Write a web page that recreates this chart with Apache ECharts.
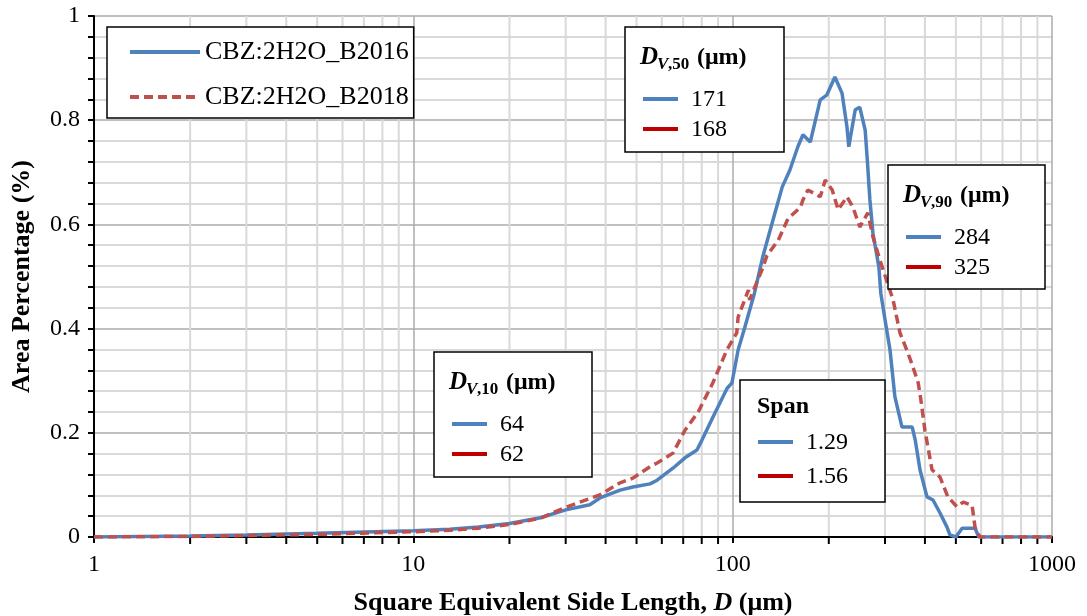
<!DOCTYPE html>
<html>
<head>
<meta charset="utf-8">
<script src="https://cdn.jsdelivr.net/npm/echarts@6/dist/echarts.min.js"></script>
<style>html,body{margin:0;padding:0;background:#fff}#c{width:1087px;height:616px}</style>
</head>
<body>
<div id="c"></div>
<script>
// ---- data ----
const seriesNames = ['CBZ:2H2O_B2016', 'CBZ:2H2O_B2018'];
const sizeB2016 = [1, 2, 3, 5, 10, 13, 16, 20, 25, 30, 35.7, 38.4, 44.4, 48.7, 55.1, 58, 65, 70.9, 77.3, 80, 86.7, 96, 99.5, 104, 109, 117, 124.5, 133, 143, 151, 160, 166, 175, 188, 197, 209, 220, 228, 231, 242, 250, 260, 264, 269, 275, 287, 291, 300, 311, 322, 339, 365, 373, 386, 406, 424, 446, 469, 479, 500, 523, 574, 590, 1000];
const areaB2016 = [0, 0.002, 0.004, 0.007, 0.012, 0.015, 0.019, 0.026, 0.037, 0.052, 0.062, 0.075, 0.090, 0.096, 0.102, 0.109, 0.132, 0.152, 0.167, 0.185, 0.230, 0.285, 0.296, 0.359, 0.401, 0.468, 0.540, 0.603, 0.672, 0.704, 0.749, 0.772, 0.758, 0.839, 0.848, 0.883, 0.852, 0.787, 0.749, 0.820, 0.825, 0.781, 0.724, 0.647, 0.583, 0.518, 0.468, 0.417, 0.359, 0.270, 0.211, 0.211, 0.186, 0.129, 0.077, 0.071, 0.046, 0.019, 0.004, 0, 0.017, 0.017, 0, 0];
const sizeB2018 = [1, 2, 3, 5, 10, 13, 16, 20, 25, 30.3, 38.4, 44.4, 48.7, 55.1, 58, 65, 70.9, 78, 86.7, 95.9, 103, 104, 112, 113, 124.5, 128, 139, 149, 163, 166, 172, 188, 195, 205, 214, 228, 238, 250, 265, 275, 289, 318, 334, 354, 367, 381, 388, 400, 421, 446, 472, 504, 527, 562, 574, 595, 1000];
const areaB2018 = [0, 0.001, 0.003, 0.005, 0.010, 0.013, 0.017, 0.024, 0.036, 0.058, 0.081, 0.104, 0.113, 0.135, 0.142, 0.161, 0.205, 0.240, 0.296, 0.359, 0.392, 0.422, 0.474, 0.455, 0.518, 0.540, 0.570, 0.611, 0.633, 0.647, 0.666, 0.653, 0.685, 0.666, 0.628, 0.653, 0.633, 0.595, 0.622, 0.576, 0.532, 0.455, 0.392, 0.353, 0.326, 0.296, 0.266, 0.205, 0.129, 0.115, 0.077, 0.058, 0.067, 0.061, 0.019, 0, 0];
const minorXTicks = [2,3,4,5,6,7,8,9,20,30,40,50,60,70,80,90,200,300,400,500,600,700,800,900];
const statsB2016 = {dv10: '64', dv50: '171', dv90: '284', span: '1.29'};
const statsB2018 = {dv10: '62', dv50: '168', dv90: '325', span: '1.56'};

const BLUE = '#4f81bd', RED = '#c0504d', RED_DARK = '#c00000';
const FONT = '"Liberation Serif", "Times New Roman", serif';
const ZB = 100;

function zip(a, b) { return a.map((v, i) => [v, b[i]]); }

// ---- annotation boxes ----
function txt(x, y, text, font) {
  return {type: 'text', z: ZB + 2, style: {x: x, y: y, text: text, font: font, fill: '#000', textVerticalAlign: 'middle'}};
}
function statBox(x, y, w, h, sub, v1, v2) {
  const els = [
    {type: 'rect', z: ZB, shape: {x: x, y: y, width: w, height: h}, style: {fill: '#fff', stroke: '#000', lineWidth: 1.5}},
  ];
  if (sub) {
    els.push(txt(x + 15, y + 31, 'D', 'italic bold 25px ' + FONT));
    els.push(txt(x + 32, y + 38, 'V', 'italic bold 17px ' + FONT));
    els.push(txt(x + 43, y + 38, sub, 'bold 17px ' + FONT));
    els.push(txt(x + 72, y + 31, '(μm)', 'bold 24px ' + FONT));
  } else {
    els.push(txt(x + 17, y + 27, 'Span', 'bold 24px ' + FONT));
  }
  const r1 = y + (sub ? 72 : 62), r2 = y + (sub ? 102 : 96);
  els.push({type: 'line', z: ZB + 1, shape: {x1: x + 18, y1: r1, x2: x + 53, y2: r1}, style: {stroke: BLUE, lineWidth: 4}});
  els.push({type: 'line', z: ZB + 1, shape: {x1: x + 18, y1: r2, x2: x + 53, y2: r2}, style: {stroke: RED_DARK, lineWidth: 4}});
  els.push(txt(x + 66, r1 + 1, v1, '24px ' + FONT));
  els.push(txt(x + 66, r2 + 1, v2, '24px ' + FONT));
  return {type: 'group', z: ZB, children: els};
}

const chart = echarts.init(document.getElementById('c'), null, {renderer: 'canvas'});
chart.setOption({
  animation: false,
  backgroundColor: '#fff',
  grid: {left: 94, right: 35, top: 16, bottom: 79, containLabel: false, outerBoundsMode: 'none'},
  legend: {
    data: seriesNames,
    orient: 'vertical', left: 107, top: 27,
    backgroundColor: '#fff', borderColor: '#000', borderWidth: 1.5,
    padding: [12, 5, 8, 21], itemGap: 19, itemWidth: 70, itemHeight: 14,
    itemStyle: {color: 'transparent', borderWidth: 0, opacity: 0},
    lineStyle: {width: 4},
    textStyle: {fontFamily: FONT, fontSize: 26, color: '#000'},
    z: 100
  },
  xAxis: {
    type: 'log', logBase: 10, min: 1, max: 1000,
    name: '{b|Square Equivalent Side Length, }{i|D}{b| (μm)}',
    nameLocation: 'middle', nameGap: 53,
    nameTextStyle: {rich: {
      b: {fontFamily: FONT, fontSize: 26, fontWeight: 'bold', color: '#000'},
      i: {fontFamily: FONT, fontSize: 26, fontWeight: 'bold', fontStyle: 'italic', color: '#000'}
    }},
    axisLine: {show: true, onZero: false, lineStyle: {color: '#000', width: 2}},
    axisTick: {show: true, inside: false, length: 6, lineStyle: {color: '#000', width: 2}},
    axisLabel: {fontFamily: FONT, fontSize: 24, color: '#000', margin: 16, formatter: v => String(v)},
    splitLine: {show: true, lineStyle: {color: '#ababab', width: 1.5}}
  },
  yAxis: {
    type: 'value', min: 0, max: 1, interval: 0.2,
    name: 'Area Percentage (%)', nameLocation: 'middle', nameGap: 59,
    nameTextStyle: {fontFamily: FONT, fontSize: 26, fontWeight: 'bold', color: '#000'},
    axisLine: {show: true, lineStyle: {color: '#000', width: 2}},
    axisTick: {show: true, inside: false, length: 6, lineStyle: {color: '#000', width: 2}},
    minorTick: {show: true, splitNumber: 5, length: 6, lineStyle: {color: '#000', width: 2}},
    axisLabel: {fontFamily: FONT, fontSize: 24, color: '#000', margin: 14},
    splitLine: {show: true, lineStyle: {color: '#ababab', width: 1.5}},
    minorSplitLine: {show: true, lineStyle: {color: '#d9d9d9', width: 2}}
  },
  series: [
    {
      type: 'custom', name: 'minor', silent: true, clip: false, z: 0,
      data: minorXTicks.map(v => [v]),
      encode: {x: 0},
      renderItem: function (params, api) {
        const v = api.value(0);
        const top = api.coord([v, 1]);
        const bot = api.coord([v, 0]);
        return {type: 'group', children: [
          {type: 'line', shape: {x1: bot[0], y1: bot[1], x2: top[0], y2: top[1]}, style: {stroke: '#d9d9d9', lineWidth: 2}},
          {type: 'line', shape: {x1: bot[0], y1: bot[1], x2: bot[0], y2: bot[1] + 7}, style: {stroke: '#000', lineWidth: 2}}
        ]};
      }
    },
    {
      name: seriesNames[0], type: 'line', data: zip(sizeB2016, areaB2016),
      symbol: 'none', smooth: false, z: 3,
      lineStyle: {color: BLUE, width: 3.5}, itemStyle: {color: BLUE}
    },
    {
      name: seriesNames[1], type: 'line', data: zip(sizeB2018, areaB2018),
      symbol: 'none', smooth: false, z: 4,
      lineStyle: {color: RED, width: 3.5, type: [9, 5]}, itemStyle: {color: RED}
    }
  ],
  graphic: [
    statBox(625, 27, 159, 125, ',50', statsB2016.dv50, statsB2018.dv50),
    statBox(888, 165, 157, 124, ',90', statsB2016.dv90, statsB2018.dv90),
    statBox(434, 352, 158, 125, ',10', statsB2016.dv10, statsB2018.dv10),
    statBox(740, 380, 145, 122, null, statsB2016.span, statsB2018.span)
  ]
});
</script>
</body>
</html>
